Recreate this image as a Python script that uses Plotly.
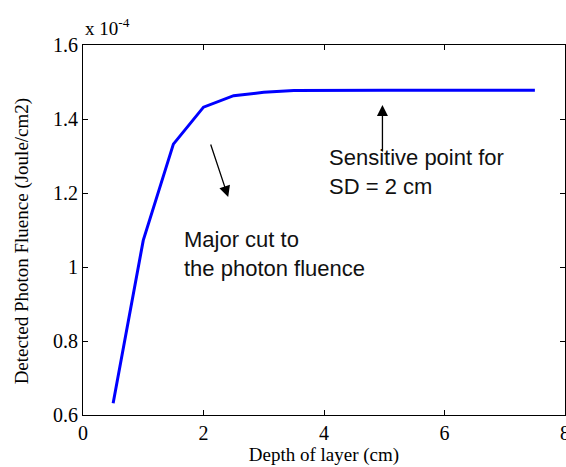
import plotly.graph_objects as go

depth_cm = [0.5, 1.0, 1.5, 2.0, 2.5, 3.0, 3.5, 4.0, 4.5, 5.0, 5.5, 6.0, 6.5, 7.0, 7.5]
fluence = [0.632, 1.072, 1.332, 1.432, 1.463, 1.472, 1.477, 1.478, 1.478, 1.478,
           1.478, 1.478, 1.478, 1.478, 1.478]

x_ticks = [0, 2, 4, 6, 8]
y_ticks = [0.6, 0.8, 1.0, 1.2, 1.4, 1.6]
y_tick_labels = ["0.6", "0.8", "1", "1.2", "1.4", "1.6"]

serif = "Liberation Serif, Times New Roman, serif"
sans = "Liberation Sans, Arial, sans-serif"

fig = go.Figure()
fig.add_trace(go.Scatter(x=depth_cm, y=fluence, mode="lines",
                         line=dict(color="#0000FF", width=3), showlegend=False))

axis_common = dict(showgrid=False, zeroline=False, showline=True, linecolor="black",
                   linewidth=1, mirror="allticks", ticks="inside", ticklen=5,
                   tickcolor="black", automargin=False, ticklabeloverflow="allow",
                   tickfont=dict(family=serif, size=20, color="black"))

fig.update_xaxes(range=[0, 8], tickvals=x_ticks, ticktext=[str(v) for v in x_ticks],
                 title=dict(text="Depth of layer (cm)", font=dict(family=serif, size=19, color="black"),
                            standoff=2),
                 **axis_common)
fig.update_yaxes(range=[0.6, 1.6], tickvals=y_ticks, ticktext=y_tick_labels, **axis_common)

# y-axis title (placed as rotated text, slightly below axis centre as in the original)
fig.add_annotation(x=-0.126, y=0.47, xref="paper", yref="paper",
                   text="Detected Photon Fluence (Joule/cm2)", textangle=-90,
                   showarrow=False, xanchor="center", yanchor="middle",
                   font=dict(family=serif, size=19, color="black"))

fig.add_annotation(x=2.41, y=1.189, xref="x", yref="y", text="", showarrow=True,
                   ax=-18, ay=-54, arrowhead=2, arrowsize=1.7, arrowwidth=1.3, arrowcolor="black")
fig.add_annotation(x=4.97, y=1.438, xref="x", yref="y", text="", showarrow=True,
                   ax=0, ay=48, arrowhead=2, arrowsize=1.7, arrowwidth=1.3, arrowcolor="black")

fig.add_annotation(x=4.05, y=1.257, xref="x", yref="y", text="Sensitive point for<br>SD = 2 cm",
                   showarrow=False, xanchor="left", yanchor="middle", align="left",
                   font=dict(family=sans, size=22, color="#111111"))
fig.add_annotation(x=1.64, y=1.035, xref="x", yref="y", text="Major cut to<br>the photon fluence",
                   showarrow=False, xanchor="left", yanchor="middle", align="left",
                   font=dict(family=sans, size=22, color="#111111"))

fig.add_annotation(x=0, y=1.0, xref="paper", yref="paper", text="x 10<sup>-4</sup>",
                   showarrow=False, xanchor="left", yanchor="bottom", yshift=4,
                   font=dict(family=serif, size=19, color="black"))

fig.update_layout(width=566, height=467, margin=dict(l=83, r=1, t=45, b=52),
                  paper_bgcolor="white", plot_bgcolor="white")

fig.write_html("out.html")
